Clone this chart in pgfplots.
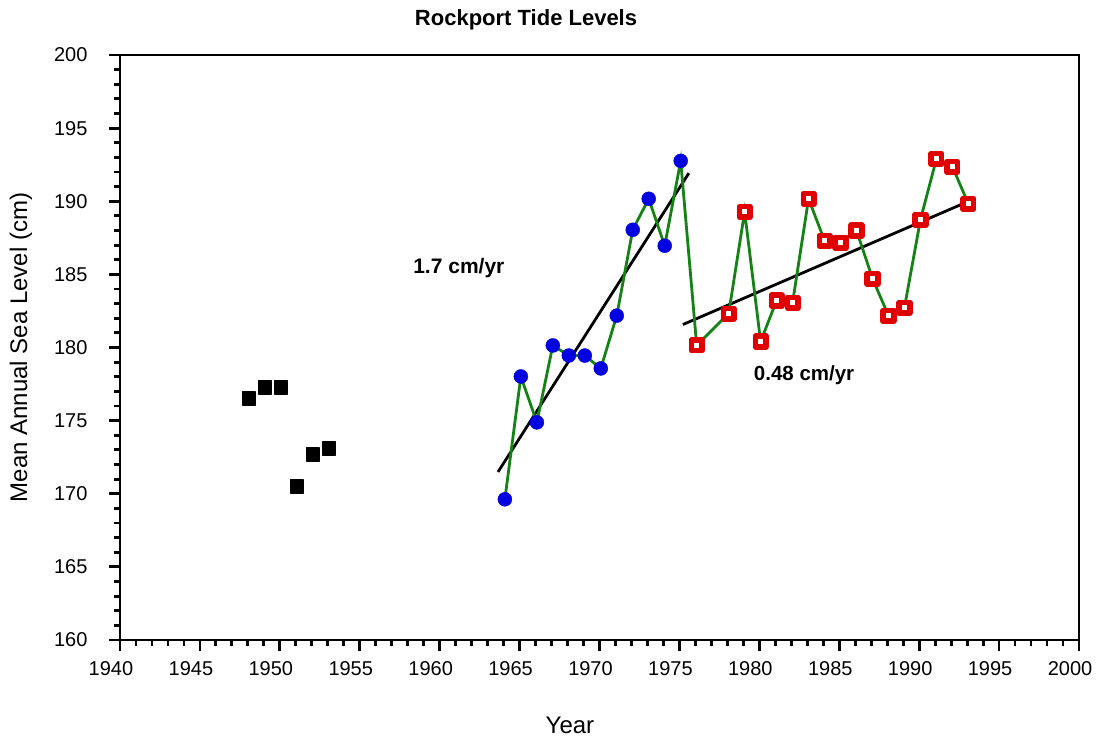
\documentclass[border=0pt]{standalone}
\usepackage{fontspec}
\setmainfont{Liberation Sans}
\usepackage{pgfplots}
\pgfplotsset{compat=1.18}
\definecolor{lgreen}{RGB}{20,130,20}
\definecolor{dblue}{RGB}{0,0,225}
\definecolor{dred}{RGB}{225,0,0}
\begin{document}
\begin{tikzpicture}
\path[use as bounding box] (-120pt,-98pt) rectangle (979pt,640pt);
\begin{axis}[
  scale only axis, width=959pt, height=585pt,
  xmin=1940, xmax=2000, ymin=160, ymax=200,
  xtick distance=5, ytick distance=5,
  minor x tick num=4, minor y tick num=4,
  tick align=outside, xtick pos=bottom, ytick pos=left,
  major tick length=11pt, minor tick length=6pt,
  tick style={black, line width=2.8pt},
  axis line style={line width=2.8pt},
  /pgf/number format/assume math mode=true,
  /pgf/number format/1000 sep={},
  tick label style={font=\fontsize{20}{22}\selectfont},
  xticklabel style={xshift=-9pt, yshift=-7pt},
  yticklabel style={xshift=-18pt},
  xlabel={Year}, ylabel={Mean Annual Sea Level (cm)},
  label style={font=\fontsize{24}{26}\selectfont},
  xlabel style={at={(rel axis cs:0.4692,-0.1453)}, anchor=center},
  ylabel style={at={(rel axis cs:-0.1032,0.5)}, anchor=center},
  clip=false,
]
% trend lines
\addplot[black, line width=2.8pt] coordinates {(1963.65,171.49) (1975.59,191.92)};
\addplot[black, line width=2.8pt] coordinates {(1975.22,181.57) (1993.27,190.08)};
% early record
\addplot[only marks, mark=square*, mark size=6.5pt, mark options={black, line join=round, line width=1.5pt}]
  coordinates {(1948.08,176.52) (1949.08,177.27) (1950.08,177.27) (1951.08,170.51) (1952.08,172.70) (1953.08,173.11)};
% 1964-1975
\addplot[only marks, mark=*, mark size=7pt, mark options={draw=dblue, fill=dblue}]
  coordinates {(1964.08,169.62) (1965.08,178.02) (1966.08,174.88) (1967.08,180.14) (1968.08,179.45) (1969.08,179.45)
  (1970.08,178.57) (1971.08,182.18) (1972.08,188.05) (1973.08,190.17) (1974.08,186.96) (1975.08,192.76)};
% 1976-1993
\addplot[only marks, mark=square*, mark size=5.3pt, mark options={draw=dred, fill=white, line width=5.5pt, line join=round}]
  coordinates {(1976.08,180.14) (1978.08,182.32) (1979.08,189.28) (1980.08,180.41) (1981.08,183.21) (1982.08,183.07)
  (1983.08,190.17) (1984.08,187.30) (1985.08,187.17) (1986.08,188.00) (1987.08,184.71) (1988.08,182.18) (1989.08,182.73)
  (1990.08,188.74) (1991.08,192.90) (1992.08,192.35) (1993.08,189.83)};
% connecting line
\addplot[lgreen, line width=2.8pt, mark=none] coordinates {
  (1964.08,169.62) (1965.08,178.02) (1966.08,174.88) (1967.08,180.14) (1968.08,179.45) (1969.08,179.45)
  (1970.08,178.57) (1971.08,182.18) (1972.08,188.05) (1973.08,190.17) (1974.08,186.96) (1975.08,192.76)
  (1976.08,180.14) (1978.08,182.32) (1979.08,189.28) (1980.08,180.41) (1981.08,183.21) (1982.08,183.07)
  (1983.08,190.17) (1984.08,187.30) (1985.08,187.17) (1986.08,188.00) (1987.08,184.71) (1988.08,182.18) (1989.08,182.73)
  (1990.08,188.74) (1991.08,192.90) (1992.08,192.35) (1993.08,189.83)};
\node[font=\bfseries\fontsize{21}{23}\selectfont] at (axis cs:1961.2,185.42) {1.7 cm/yr};
\node[font=\bfseries\fontsize{20.5}{22}\selectfont] at (axis cs:1982.8,178.1) {0.48 cm/yr};
\node[font=\bfseries\fontsize{22}{24}\selectfont] at (rel axis cs:0.4234,1.0598) {Rockport Tide Levels};
\end{axis}
\end{tikzpicture}
\end{document}
